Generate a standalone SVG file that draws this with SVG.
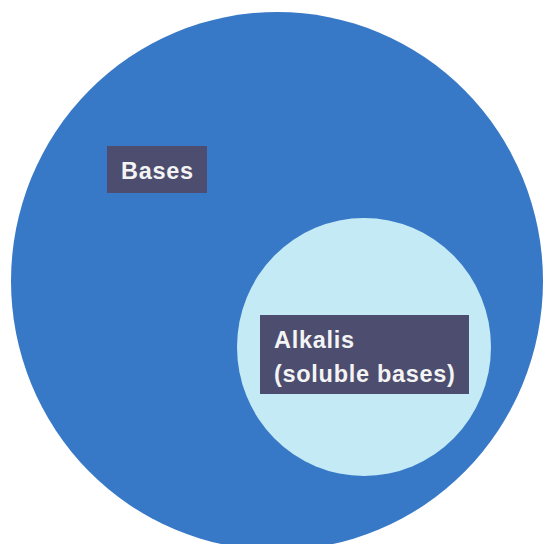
<svg xmlns="http://www.w3.org/2000/svg" width="544" height="544" viewBox="0 0 544 544">
<style>
.lbl{fill:#4c4d6f}
.t{font-family:"Liberation Sans",Arial,sans-serif;font-weight:bold;font-size:23.5px;fill:#f4f4f4;letter-spacing:0.7px}
</style>
<rect width="544" height="544" fill="#ffffff"/>
<g id="bases">
<ellipse cx="277" cy="281" rx="266" ry="269" fill="#3779c7"/>
<rect class="lbl" x="107" y="146" width="100" height="47"/>
<text class="t" x="121" y="179">Bases</text>
</g>
<g id="alkalis">
<ellipse cx="364" cy="347" rx="127" ry="129" fill="#c4eaf5"/>
<rect class="lbl" x="260" y="315" width="209" height="79"/>
<text class="t" x="274" y="348">Alkalis</text>
<text class="t" x="274" y="382">(soluble bases)</text>
</g>
<g id="connectors"/>
</svg>
